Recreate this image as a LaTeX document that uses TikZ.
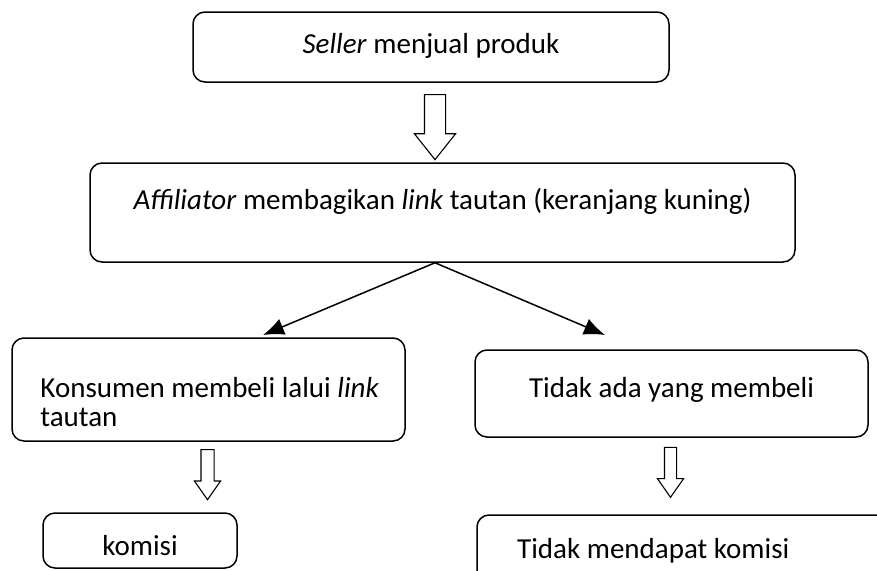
\documentclass[tikz,border=0pt]{standalone}
\usepackage{fontspec}
\setmainfont{Carlito}
\usetikzlibrary{calc}
\usetikzlibrary{shapes.arrows}
\usetikzlibrary{arrows.meta}

\tikzset{
	box/.style={rectangle, rounded corners=12pt, draw=black, line width=1.5pt, inner sep=0pt},
	hollow/.style={single arrow, draw=black, line width=1.1pt, fill=white, inner xsep=0pt, rotate=-90},
	boxtext/.style={font=\fontsize{29}{29}\selectfont, inner sep=0pt, anchor=base}
}

\begin{document}
\begin{tikzpicture}[x=1pt, y=-1pt, >={Latex[length=21pt,width=17pt]}]
		\path [use as bounding box, clip] (0,0) rectangle (877,570);

		%elements
		\node [box, minimum width=476pt, minimum height=70pt] at (431,47) (seller) {};
		\node [boxtext] at ($(seller.center)+(0,6)$) (sellertext) {\textit{Seller} menjual produk};

		\node [box, minimum width=705pt, minimum height=99pt] at (442.5,212.5) (affiliator) {};
		\node [boxtext] at ($(affiliator.center)+(0,-3)$) (affiliatortext) {\textit{Affiliator} membagikan \textit{link} tautan (keranjang kuning)};

		\node [box, minimum width=393pt, minimum height=103pt] at (208.5,389.5) (buy) {};
		\node [boxtext, anchor=base west, align=left] at ($(buy.west)+(29,37)$) (buytext) {Konsumen membeli lalui \textit{link}\\tautan};

		\node [box, minimum width=393pt, minimum height=87pt] at (671.5,393.5) (nobuy) {};
		\node [boxtext] at ($(nobuy.center)+(0,4)$) (nobuytext) {Tidak ada yang membeli};

		\node [box, minimum width=194pt, minimum height=55pt] at (140,540.5) (komisi) {};
		\node [boxtext] at ($(komisi.center)+(0,15)$) (komisitext) {komisi};

		\node [box, minimum width=430pt, minimum height=80pt] at (692,555) (nokomisi) {};
		\node [boxtext] at ($(nokomisi.west)+(177,3)$) (nokomisitext) {Tidak mendapat komisi};

		%hollow arrows
		\node [hollow, inner ysep=10pt, minimum height=65pt, single arrow head extend=10pt, single arrow tip angle=77] at (435,120.5) (step1) {};
		\node [hollow, inner ysep=6pt, minimum height=50pt, single arrow head extend=6.5pt, single arrow tip angle=70] at (207.5,470) (step2) {};
		\node [hollow, inner ysep=5.5pt, minimum height=50pt, single arrow head extend=7pt, single arrow tip angle=70] at (670.5,468) (step3) {};

		%connectors
		\coordinate (split) at ($(affiliator.south)+(-7.5,0)$);
		\coordinate (buytip) at (263,335);
		\coordinate (nobuytip) at (605,335);
		\draw [->, line width=1.5pt] (split) -- (buytip);
		\draw [->, line width=1.5pt] (split) -- (nobuytip);
\end{tikzpicture}
\end{document}
